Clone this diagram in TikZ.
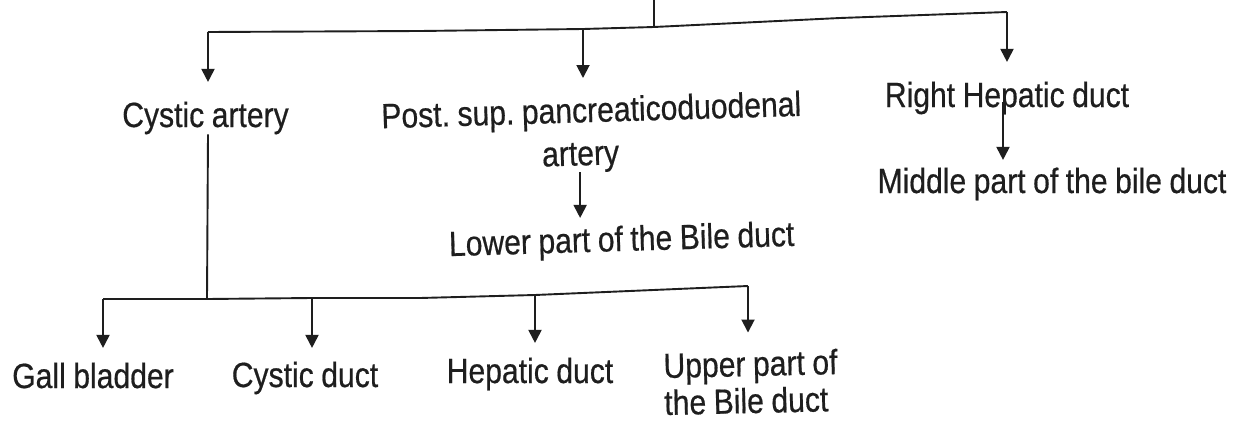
\documentclass[tikz,border=0pt]{standalone}
\usepackage{fontspec}
\setmainfont{Liberation Sans}[FakeStretch=0.86, WordSpace=0.9, FakeBold=0.5]
\usetikzlibrary{arrows.meta}
\definecolor{ink}{HTML}{1E1E1E}
\frenchspacing
\begin{document}
\begin{tikzpicture}[x=1pt,y=-1pt,
  lbl/.style={inner sep=0pt, text=ink, font=\fontsize{35}{37}\selectfont},
  link/.style={draw=ink, line width=1.9pt},
  arr/.style={link, -{Triangle[length=13pt,width=13pt]}}]
\useasboundingbox[fill=white] (0,0) rectangle (1240,423);

% ---- text nodes ----
\node[lbl, anchor=base] (ca) at (205.5,127) {Cystic artery};
\node[lbl, anchor=center, align=center, rotate=1.7] (post) at (592,134.5)
  {Post. sup. pancreaticoduodenal\\[6pt]artery\hspace*{24pt}};
\node[lbl, anchor=base] (rh) at (1007,107) {Right Hepatic duct};
\node[lbl, anchor=base] (mid) at (1052,193) {Middle part of the bile duct};
\node[lbl, anchor=base, rotate=1.7] (low) at (622,251) {Lower part of the Bile duct};
\node[lbl, anchor=base] (gb) at (93,388) {Gall bladder};
\node[lbl, anchor=base] (cd) at (305,387) {Cystic duct};
\node[lbl, anchor=base] (hd) at (530,383) {Hepatic duct};
\node[lbl, anchor=north west, align=left, rotate=1.3] (up) at (663,352.5)
  {Upper part of\\the Bile duct};

% ---- upper branching ----
\coordinate (top) at (654,0);
\coordinate (jTop) at (654,27);
\coordinate (jCA) at (208,32);
\coordinate (t1) at (420,31);
\coordinate (jPost) at (583,29);
\coordinate (t2) at (840,18);
\coordinate (jRH) at (1007,12);

\draw[link] (top) -- (jTop);
\draw[link] (jCA) -- (t1) -- (jPost) -- (jTop) -- (t2) -- (jRH);
\draw[arr, shorten >=19.5pt] (jCA) -- (jCA |- ca.north);
\draw[arr, shorten >=18.5pt] (jPost) -- (jPost |- post.north);
\draw[arr, shorten >=19.5pt] (jRH) -- (jRH |- rh.north);

% ---- right hepatic -> middle part ----
\coordinate (rhs) at ([xshift=-4pt,yshift=5pt]rh.base);
\draw[arr, shorten >=7.5pt] (rhs) -- (rhs |- mid.north);

% ---- artery -> lower part ----
\coordinate (ps) at ([xshift=-13pt]post.south);
\draw[arr, shorten >=7.5pt] (ps) -- (ps |- low.north);

% ---- cystic artery branching ----
\coordinate (jB) at (207,299);
\coordinate (jGB) at (103,299);
\coordinate (jCD) at (312,298);
\coordinate (b1) at (420,298);
\coordinate (jHD) at (535,295);
\coordinate (jUP) at (748,286);

\draw[link] ([xshift=2.5pt]ca.south) -- (jB);
\draw[link] (jGB) -- (jB) -- (jCD) -- (b1) -- (jHD) -- (jUP);
\draw[arr, shorten >=14.5pt] (jGB) -- (jGB |- gb.north);
\draw[arr, shorten >=13.5pt] (jCD) -- (jCD |- cd.north);
\draw[arr, shorten >=14.5pt] (jHD) -- (jHD |- hd.north);
\draw[arr, shorten >=18pt] (jUP) -- (jUP |- up.north);
\end{tikzpicture}
\end{document}
